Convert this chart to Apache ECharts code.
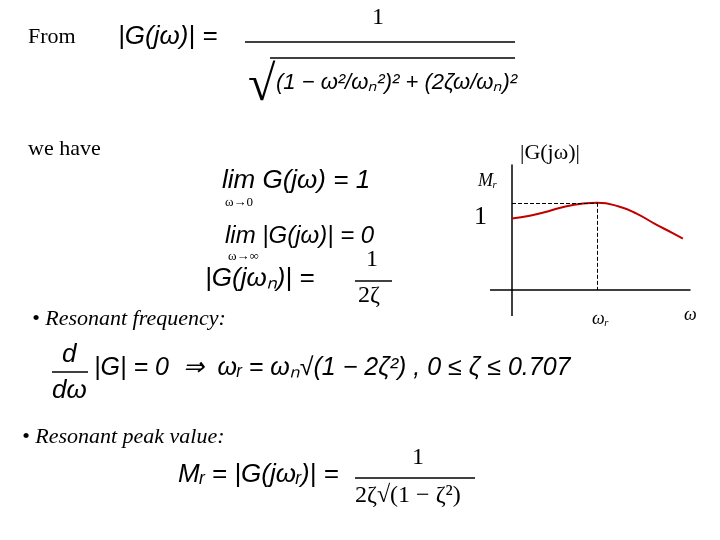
<![CDATA[<!DOCTYPE html>
<html><head><meta charset="utf-8">
<script src="https://cdn.jsdelivr.net/npm/echarts@6/dist/echarts.min.js"></script>
<style>html,body{margin:0;background:#fff}#c{width:720px;height:540px}</style>
</head><body><div id="c"></div>
<script>
// frequency response sketch: omega (arbitrary units) vs |G(jw)|
var omega = [0, 1, 2, 3, 4, 4.8, 6, 7, 8, 9, 9.6];
var gain = [1.0, 1.04, 1.10, 1.17, 1.21, 1.22, 1.17, 1.07, 0.93, 0.80, 0.72];
var peakW = 4.8, peakM = 1.22;

var chart = echarts.init(document.getElementById('c'));
var serif = '"Liberation Serif", "DejaVu Serif", serif';
var sans = '"Liberation Sans", Arial, sans-serif';
function t(x, y, s, size, opt) {
  opt = opt || {};
  return { type: 'text', left: x, top: y, style: { text: s, fontSize: size,
    fontFamily: opt.sans ? sans : serif, fontStyle: opt.italic ? 'italic' : 'normal', fill: '#000' } };
}
function hl(x1, x2, y) {
  return { type: 'line', shape: { x1: x1, y1: y, x2: x2, y2: y }, style: { stroke: '#000', lineWidth: 1.5 } };
}
var g = [
  t(28, 26, 'From', 22),
  t(118, 24, '|G(jω)| =', 26, { sans: true, italic: true }),
  t(372, 6, '1', 24),
  hl(245, 515, 42),
  t(248, 62, '√', 50),
  hl(270, 515, 58),
  t(276, 72, '(1 − ω²/ωₙ²)² + (2ζω/ωₙ)²', 22, { sans: true, italic: true }),
  t(28, 138, 'we have', 22),
  t(222, 168, 'lim G(jω) = 1', 26, { sans: true, italic: true }),
  t(225, 196, 'ω→0', 13),
  t(225, 224, 'lim |G(jω)| = 0', 24, { sans: true, italic: true }),
  t(228, 250, 'ω→∞', 13),
  t(205, 266, '|G(jωₙ)| =', 26, { sans: true, italic: true }),
  t(366, 248, '1', 24),
  hl(355, 392, 281),
  t(358, 284, '2ζ', 24),
  t(32, 308, '• Resonant frequency:', 22, { italic: true }),
  t(62, 342, 'd', 26, { sans: true, italic: true }),
  hl(52, 88, 372),
  t(52, 378, 'dω', 26, { sans: true, italic: true }),
  t(94, 356, '|G| = 0  ⇒  ωᵣ = ωₙ√(1 − 2ζ²) , 0 ≤ ζ ≤ 0.707', 25, { sans: true, italic: true }),
  t(22, 426, '• Resonant peak value:', 22, { italic: true }),
  t(178, 462, 'Mᵣ = |G(jωᵣ)| =', 26, { sans: true, italic: true }),
  t(412, 446, '1', 24),
  hl(355, 475, 478),
  t(355, 484, '2ζ√(1 − ζ²)', 24),
  // chart labels
  t(520, 142, '|G(jω)|', 22),
  t(478, 172, 'Mᵣ', 18, { italic: true }),
  t(474, 204, '1', 26),
  t(592, 310, 'ωᵣ', 18, { italic: true }),
  t(684, 306, 'ω', 18, { italic: true }),
  // axis extensions
  { type: 'line', shape: { x1: 512, y1: 290, x2: 512, y2: 316 }, style: { stroke: '#000', lineWidth: 1.5 } },
  { type: 'line', shape: { x1: 490, y1: 290, x2: 512, y2: 290 }, style: { stroke: '#000', lineWidth: 1.5 } }
];

chart.setOption({
  animation: false,
  grid: { left: 512, right: 30, top: 165, bottom: 250 },
  xAxis: { type: 'value', min: 0, max: 10, axisLine: { lineStyle: { color: '#000', width: 1.5 } },
    axisTick: { show: false }, axisLabel: { show: false }, splitLine: { show: false } },
  yAxis: { type: 'value', min: 0, max: 1.75, axisLine: { show: true, lineStyle: { color: '#000', width: 1.5 } },
    axisTick: { show: false }, axisLabel: { show: false }, splitLine: { show: false } },
  series: [{
    type: 'line', smooth: true, symbol: 'none',
    data: omega.map(function (w, i) { return [w, gain[i]]; }),
    lineStyle: { color: '#c00000', width: 2 },
    markLine: { symbol: 'none', silent: true, label: { show: false },
      lineStyle: { color: '#000', type: 'dashed', width: 1 },
      data: [
        [{ coord: [0, peakM] }, { coord: [peakW, peakM] }],
        [{ coord: [peakW, peakM] }, { coord: [peakW, 0] }]
      ] }
  }],
  graphic: g
});
</script></body></html>
]]>
